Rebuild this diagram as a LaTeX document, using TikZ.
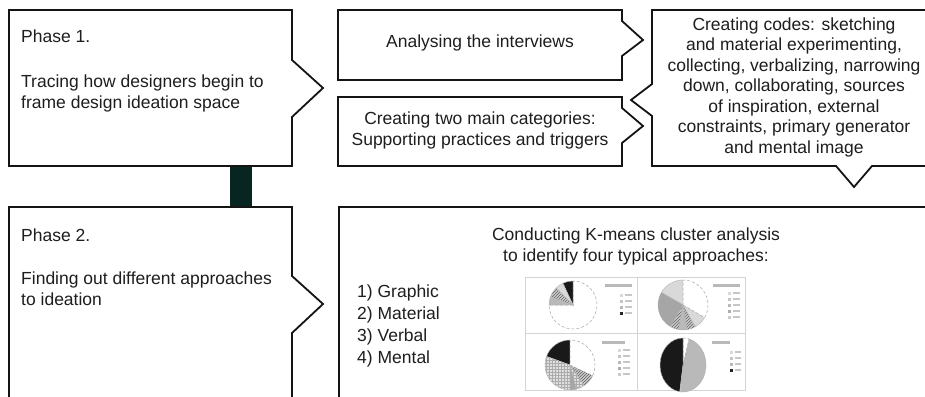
\documentclass[tikz,border=0pt]{standalone}
\usepackage{fontspec}
\setmainfont{Liberation Sans}
\usetikzlibrary{patterns}
\definecolor{ink}{HTML}{1E1E1E}
\definecolor{barcol}{HTML}{072622}
\definecolor{frame}{HTML}{D4D4D4}

\begin{document}
\begin{tikzpicture}[x=1pt,y=-1pt,
  outline/.style={draw=black!92, line width=1.8pt, line join=miter, fill=white},
  txt/.style={text=ink, font=\fontsize{17.5}{20.5}\selectfont, inner sep=0pt},
  listtxt/.style={text=ink, font=\fontsize{17.5}{21.7}\selectfont, inner sep=0pt},
  % pie slice looks
  pw/.style={fill=white, draw=gray!70, line width=.5pt, densely dashed},
  pl/.style={fill=gray!30, draw=gray!60, line width=.4pt},
  pm/.style={fill=gray!55, draw=gray!60, line width=.4pt},
  pd/.style={fill=gray!70, draw=gray!60, line width=.4pt},
  pk/.style={fill=black!90, draw=gray!60, line width=.4pt},
  ph/.style={preaction={fill=gray!40}, pattern=north east lines, pattern color=gray!75!black, draw=gray!60, line width=.4pt},
  pg/.style={preaction={fill=gray!25}, pattern=grid, pattern color=gray!65, draw=gray!60, line width=.4pt},
  legbar/.style={fill=gray!55},
 ]
\useasboundingbox (0,0) rectangle (925,396);
\clip (0,0) rectangle (925,396);

% link between the two phases
\coordinate (p1foot) at (230,166);
\coordinate (p2head) at (252,208);
\fill[barcol] (p1foot) rectangle (p2head);

% phase boxes with arrow notches
\draw[outline] (9,10) -- (292,10) -- (292,60) -- (323,88) -- (292,117)
  -- (292,166) -- (9,166) -- cycle;
\draw[outline] (9,207) -- (292,207) -- (292,276) -- (323,304) -- (292,333)
  -- (292,410) -- (9,410) -- cycle;

% step boxes
\draw[outline] (338,10) -- (622,10) -- (622,21) -- (643,40) -- (622,56)
  -- (622,80) -- (338,80) -- cycle;
\draw[outline] (338,97) -- (622,97) -- (622,108) -- (643,126) -- (622,143)
  -- (622,166) -- (338,166) -- cycle;
\draw[outline] (652,10) -- (935,10) -- (935,166) -- (872,166) -- (854,187)
  -- (836,166) -- (652,166) -- (652,116) -- (631,100) -- (652,84) -- cycle;
\draw[outline] (339,207) -- (935,207) -- (935,410) -- (339,410) -- cycle;

% texts (multi-line nodes are placed by the baseline of their last line)
\node[txt, anchor=base west] (p1head) at (21,43) {Phase 1.};
\node[txt, anchor=base west, align=left] (p1body) at (21,108)
  {Tracing how designers begin to\\frame design ideation space};
\node[txt, anchor=base west] (p2head) at (21,241) {Phase 2.};
\node[txt, anchor=base west, align=left] (p2body) at (21,305)
  {Finding out different approaches\\to ideation};
\node[txt, anchor=base] (analyse) at (480,48) {Analysing the interviews};
\node[txt, anchor=base, align=center] (cats) at (480,145)
  {Creating two main categories:\\Supporting practices and triggers};
\node[txt, anchor=base, align=center] (codes) at (794,153)
  {Creating codes: sketching\\and material experimenting,\\collecting, verbalizing, narrowing\\down, collaborating, sources\\of inspiration, external\\constraints, primary generator\\and mental image};
\node[txt, anchor=base, align=center] (kmeans) at (636,261)
  {Conducting K-means cluster analysis\\to identify four typical approaches:};
\node[listtxt, anchor=base west, align=left] (types) at (357,363)
  {1) Graphic\\2) Material\\3) Verbal\\4) Mental};

% chart panel
\draw[frame, line width=.8pt] (525,277) rectangle (745,390);
\draw[frame, line width=.8pt] (637,277) -- (637,390);
\draw[frame, line width=.8pt] (525,333) -- (745,333);

% graphic approach
\begin{scope}[shift={(573,305)}, yscale=-1]
  \foreach \a/\b/\s in {180/450/pw, 90/115/pk, 115/135/pl, 135/160/ph, 160/180/pm}
    \path[\s] (0,0) -- (\a:24) arc[start angle=\a, end angle=\b, radius=24] -- cycle;
\end{scope}
% material approach
\begin{scope}[shift={(683,305)}, yscale=-1]
  \foreach \a/\b/\s in {90/150/pl, 150/240/pd, 240/260/ph, 260/280/pm, 280/300/ph, 300/330/pl, 330/450/pw}
    \path[\s] (0,0) -- (\a:25) arc[start angle=\a, end angle=\b, radius=25] -- cycle;
\end{scope}
% verbal approach
\begin{scope}[shift={(570,365)}, yscale=-1]
  \foreach \a/\b/\s in {90/160/pk, 160/270/pg, 270/285/pd, 285/305/pg, 305/335/ph, 335/450/pw}
    \path[\s] (0,0) -- (\a:25) arc[start angle=\a, end angle=\b, radius=25] -- cycle;
\end{scope}
% mental approach
\begin{scope}[shift={(683,365)}, yscale=-1]
  \foreach \a/\b/\s in {-95/75/pm, 75/90/pw, 90/262/pk, 262/265/pl}
    \path[\s] (0,0) -- (\a:23 and 27) arc[start angle=\a, end angle=\b, x radius=23, y radius=27] -- cycle;
\end{scope}

% legends
\fill[legbar] (605,284) rectangle (632,286.5);
\foreach \y/\c in {295/gray!30, 301/gray!45, 307/gray!55, 313/black!85}
  { \fill[\c] (620,\y-1.5) rectangle (623,\y+1.5); \fill[gray!45] (625,\y-.8) rectangle (632,\y+.8); }
\fill[legbar] (713,284) rectangle (740,286.5);
\foreach \y/\c in {293/gray!30, 299/gray!45, 305/gray!55, 311/gray!65, 317/gray!40}
  { \fill[\c] (728,\y-1.5) rectangle (731,\y+1.5); \fill[gray!45] (733,\y-.8) rectangle (740,\y+.8); }
\fill[legbar] (602,341) rectangle (625,343.5);
\foreach \y/\c in {350/gray!30, 356/gray!45, 362/gray!55, 368/gray!65, 374/gray!40}
  { \fill[\c] (618,\y-1.5) rectangle (621,\y+1.5); \fill[gray!45] (623,\y-.8) rectangle (630,\y+.8); }
\fill[legbar] (712,341) rectangle (730,343.5);
\foreach \y/\c in {352/gray!30, 358/gray!45, 364/gray!55, 370/black!85}
  { \fill[\c] (730,\y-1.5) rectangle (733,\y+1.5); \fill[gray!45] (735,\y-.8) rectangle (741,\y+.8); }
\end{tikzpicture}
\end{document}
